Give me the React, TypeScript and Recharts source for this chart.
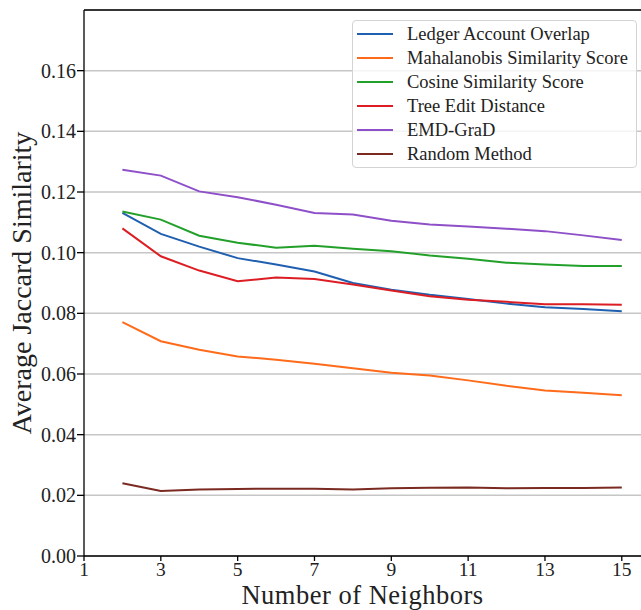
import React from 'react';
import { LineChart, Line, XAxis, YAxis, CartesianGrid, Legend, ReferenceLine } from 'recharts';

const neighbors = [2, 3, 4, 5, 6, 7, 8, 9, 10, 11, 12, 13, 14, 15];

const ledgerOverlap = [0.1131, 0.1062, 0.102, 0.0982, 0.0961, 0.0938, 0.09, 0.0878, 0.0861, 0.0847, 0.0832, 0.082, 0.0814, 0.0807];
const mahalanobis = [0.0771, 0.0708, 0.068, 0.0658, 0.0647, 0.0634, 0.0619, 0.0604, 0.0595, 0.0579, 0.0561, 0.0546, 0.0538, 0.053];
const cosine = [0.1136, 0.1109, 0.1056, 0.1033, 0.1016, 0.1023, 0.1013, 0.1005, 0.0991, 0.098, 0.0967, 0.0961, 0.0956, 0.0956];
const treeEdit = [0.108, 0.0988, 0.0941, 0.0906, 0.0918, 0.0913, 0.0895, 0.0875, 0.0856, 0.0845, 0.0838, 0.083, 0.083, 0.0828];
const emdGrad = [0.1273, 0.1254, 0.1202, 0.1183, 0.1158, 0.1131, 0.1126, 0.1105, 0.1093, 0.1086, 0.1079, 0.1071, 0.1057, 0.1042];
const randomMethod = [0.024, 0.0214, 0.0219, 0.0221, 0.0222, 0.0222, 0.0219, 0.0223, 0.0225, 0.0226, 0.0223, 0.0224, 0.0224, 0.0226];

const xTicks = [1, 3, 5, 7, 9, 11, 13, 15];
const yTicks = [0, 0.02, 0.04, 0.06, 0.08, 0.1, 0.12, 0.14, 0.16];

const SERIES = [
  { key: 'ledger', name: 'Ledger Account Overlap', color: '#1f5fb0', values: ledgerOverlap },
  { key: 'mahalanobis', name: 'Mahalanobis Similarity Score', color: '#ff6b1a', values: mahalanobis },
  { key: 'cosine', name: 'Cosine Similarity Score', color: '#22a02a', values: cosine },
  { key: 'tree', name: 'Tree Edit Distance', color: '#dc1e24', values: treeEdit },
  { key: 'emd', name: 'EMD-GraD', color: '#8e50c8', values: emdGrad },
  { key: 'random', name: 'Random Method', color: '#7a2a20', values: randomMethod },
];

const SERIF = '"Liberation Serif", "DejaVu Serif", serif';

const data = neighbors.map((n, i) => {
  const row: Record<string, number> = { n };
  SERIES.forEach(s => {
    row[s.key] = s.values[i];
  });
  return row;
});

const LegendBox = () => (
  <div
    style={{
      width: 285,
      height: 148,
      boxSizing: 'border-box',
      background: 'rgba(255,255,255,0.8)',
      border: '1px solid #d4d4d4',
      borderRadius: 4,
      paddingTop: 1,
    }}
  >
    {SERIES.map(s => (
      <div key={s.key} style={{ display: 'flex', alignItems: 'center', height: 24 }}>
        <div style={{ width: 36, height: 2, background: s.color, marginLeft: 4, marginRight: 14 }} />
        <span style={{ fontFamily: SERIF, fontSize: 18.5, color: '#222', whiteSpace: 'nowrap' }}>{s.name}</span>
      </div>
    ))}
  </div>
);

// x label placed by baseline just under the tick numbers
const XLabel = ({ viewBox }: any) => (
  <text
    x={viewBox.x + viewBox.width / 2}
    y={viewBox.y + 48}
    textAnchor="middle"
    fill="#222"
    fontSize={26.5}
    letterSpacing={0.5}
    fontFamily={SERIF}
  >
    Number of Neighbors
  </text>
);

export default function App() {
  return (
    <div style={{ position: 'absolute', left: 0, top: 0, background: '#fff' }}>
      <LineChart width={641} height={610} data={data} margin={{ top: 10, right: 0, bottom: 0, left: 0 }}>
        <CartesianGrid vertical={false} stroke="#c6c6c6" strokeWidth={1.5} />
        <XAxis
          dataKey="n"
          type="number"
          domain={[1, 15.5]}
          ticks={xTicks}
          allowDataOverflow
          height={54}
          stroke="#000"
          strokeWidth={1.3}
          tickSize={5}
          tickMargin={1}
          tick={{ fill: '#222', fontSize: 19.5, fontFamily: SERIF }}
          label={{ content: <XLabel /> }}
        />
        <YAxis
          type="number"
          domain={[0, 0.18]}
          ticks={yTicks}
          allowDataOverflow
          width={84}
          stroke="#000"
          strokeWidth={1.3}
          tickSize={7}
          tickMargin={1}
          tickFormatter={(v: number) => v.toFixed(2)}
          tick={{ fill: '#222', fontSize: 20, fontFamily: SERIF }}
          label={{
            value: 'Average Jaccard Similarity',
            angle: -90,
            position: 'insideLeft',
            offset: 21,
            fill: '#222',
            fontSize: 28,
            fontFamily: SERIF,
            style: { textAnchor: 'middle' },
          }}
        />
        <ReferenceLine y={0.18} stroke="#000" strokeWidth={1.5} />
        {SERIES.map(s => (
          <Line
            key={s.key}
            type="linear"
            dataKey={s.key}
            name={s.name}
            stroke={s.color}
            strokeWidth={2}
            dot={false}
            isAnimationActive={false}
          />
        ))}
        <Legend
          layout="vertical"
          align="center"
          verticalAlign="middle"
          content={<LegendBox />}
          wrapperStyle={{ left: 352, top: 20, width: 285 }}
        />
      </LineChart>
    </div>
  );
}
